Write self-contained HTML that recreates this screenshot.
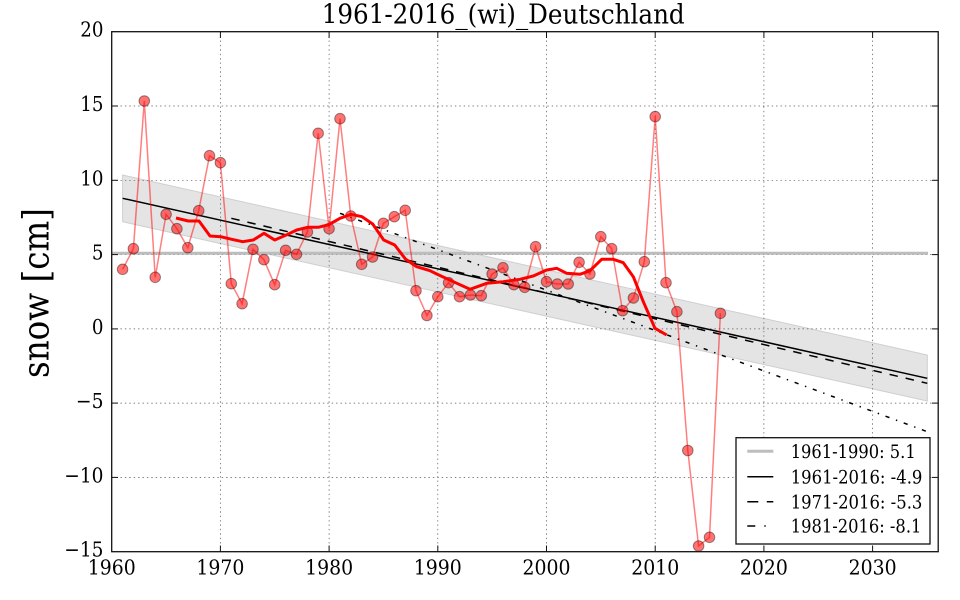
<!DOCTYPE html>
<html><head><meta charset="utf-8"><style>
html,body{margin:0;padding:0;background:#fff;}
svg{display:block;}
text{font-family:"DejaVu Serif","Liberation Serif",serif;fill:#000;}
</style></head><body>
<svg width="960" height="600" viewBox="0 0 960 600" xmlns="http://www.w3.org/2000/svg">
<rect width="960" height="600" fill="#fff"/>
<!-- band -->
<polygon points="122.6,175 927.3,355 927.3,401 122.6,221.7" fill="#e4e4e4" stroke="#cfcfcf" stroke-width="1"/>
<!-- grid -->
<g stroke="#555" stroke-width="0.7" stroke-dasharray="1.4,3" fill="none">
<line x1="220.4" y1="31.7" x2="220.4" y2="551.7"/>
<line x1="329.1" y1="31.7" x2="329.1" y2="551.7"/>
<line x1="437.8" y1="31.7" x2="437.8" y2="551.7"/>
<line x1="546.5" y1="31.7" x2="546.5" y2="551.7"/>
<line x1="655.2" y1="31.7" x2="655.2" y2="551.7"/>
<line x1="763.9" y1="31.7" x2="763.9" y2="551.7"/>
<line x1="872.6" y1="31.7" x2="872.6" y2="551.7"/>
<line x1="111.7" y1="106" x2="938.2" y2="106"/>
<line x1="111.7" y1="180.3" x2="938.2" y2="180.3"/>
<line x1="111.7" y1="254.6" x2="938.2" y2="254.6"/>
<line x1="111.7" y1="328.9" x2="938.2" y2="328.9"/>
<line x1="111.7" y1="403.1" x2="938.2" y2="403.1"/>
<line x1="111.7" y1="477.4" x2="938.2" y2="477.4"/>
</g>
<!-- grey mean line -->
<line x1="111.7" y1="253.2" x2="928" y2="253.2" stroke="#bdbdbd" stroke-width="3"/>
<!-- trend lines -->
<line x1="122.6" y1="198.3" x2="927.3" y2="378.3" stroke="#000" stroke-width="1.5"/>
<line x1="231.3" y1="218.3" x2="927.3" y2="383.3" stroke="#000" stroke-width="1.5" stroke-dasharray="8.5,8"/>
<line x1="340" y1="213.3" x2="927.3" y2="431.7" stroke="#000" stroke-width="1.5" stroke-dasharray="4.2,6.9,1.4,6.9"/>
<!-- data line -->
<polyline fill="none" stroke="#ff0000" stroke-opacity="0.5" stroke-width="1.5" points="122.6,269.3 133.4,248.7 144.3,101 155.2,277.3 166.1,214.3 176.9,228.7 187.8,247.7 198.7,210.7 209.5,155.7 220.4,162.7 231.3,283.7 242.1,303.7 253,249.3 263.9,259.7 274.7,284.7 285.6,250.3 296.5,254.3 307.4,232 318.2,133.3 329.1,228.7 340,118.7 350.8,216 361.7,264.3 372.6,257 383.4,223.3 394.3,216.7 405.2,210.3 416,290.7 426.9,315.5 437.8,296.7 448.6,282.7 459.5,296.7 470.4,295 481.3,295.7 492.1,274 503,267.7 513.9,284.7 524.7,287.3 535.6,246.7 546.5,281.7 557.3,284 568.2,284 579.1,262.3 589.9,274 600.8,236.7 611.7,248.7 622.6,310.7 633.4,298 644.3,261.7 655.2,116.6 666,282.7 676.9,311.7 687.8,450.5 698.6,546 709.5,537.3 720.4,313.3"/>
<g fill="#ff0000" fill-opacity="0.55" stroke="#000" stroke-opacity="0.4" stroke-width="1">
<circle cx="122.6" cy="269.3" r="5.3"/><circle cx="133.4" cy="248.7" r="5.3"/><circle cx="144.3" cy="101" r="5.3"/><circle cx="155.2" cy="277.3" r="5.3"/><circle cx="166.1" cy="214.3" r="5.3"/><circle cx="176.9" cy="228.7" r="5.3"/><circle cx="187.8" cy="247.7" r="5.3"/><circle cx="198.7" cy="210.7" r="5.3"/><circle cx="209.5" cy="155.7" r="5.3"/><circle cx="220.4" cy="162.7" r="5.3"/><circle cx="231.3" cy="283.7" r="5.3"/><circle cx="242.1" cy="303.7" r="5.3"/><circle cx="253" cy="249.3" r="5.3"/><circle cx="263.9" cy="259.7" r="5.3"/><circle cx="274.7" cy="284.7" r="5.3"/><circle cx="285.6" cy="250.3" r="5.3"/><circle cx="296.5" cy="254.3" r="5.3"/><circle cx="307.4" cy="232" r="5.3"/><circle cx="318.2" cy="133.3" r="5.3"/><circle cx="329.1" cy="228.7" r="5.3"/><circle cx="340" cy="118.7" r="5.3"/><circle cx="350.8" cy="216" r="5.3"/><circle cx="361.7" cy="264.3" r="5.3"/><circle cx="372.6" cy="257" r="5.3"/><circle cx="383.4" cy="223.3" r="5.3"/><circle cx="394.3" cy="216.7" r="5.3"/><circle cx="405.2" cy="210.3" r="5.3"/><circle cx="416" cy="290.7" r="5.3"/><circle cx="426.9" cy="315.5" r="5.3"/><circle cx="437.8" cy="296.7" r="5.3"/><circle cx="448.6" cy="282.7" r="5.3"/><circle cx="459.5" cy="296.7" r="5.3"/><circle cx="470.4" cy="295" r="5.3"/><circle cx="481.3" cy="295.7" r="5.3"/><circle cx="492.1" cy="274" r="5.3"/><circle cx="503" cy="267.7" r="5.3"/><circle cx="513.9" cy="284.7" r="5.3"/><circle cx="524.7" cy="287.3" r="5.3"/><circle cx="535.6" cy="246.7" r="5.3"/><circle cx="546.5" cy="281.7" r="5.3"/><circle cx="557.3" cy="284" r="5.3"/><circle cx="568.2" cy="284" r="5.3"/><circle cx="579.1" cy="262.3" r="5.3"/><circle cx="589.9" cy="274" r="5.3"/><circle cx="600.8" cy="236.7" r="5.3"/><circle cx="611.7" cy="248.7" r="5.3"/><circle cx="622.6" cy="310.7" r="5.3"/><circle cx="633.4" cy="298" r="5.3"/><circle cx="644.3" cy="261.7" r="5.3"/><circle cx="655.2" cy="116.6" r="5.3"/><circle cx="666" cy="282.7" r="5.3"/><circle cx="676.9" cy="311.7" r="5.3"/><circle cx="687.8" cy="450.5" r="5.3"/><circle cx="698.6" cy="546" r="5.3"/><circle cx="709.5" cy="537.3" r="5.3"/><circle cx="720.4" cy="313.3" r="5.3"/>
</g>
<!-- smoothed -->
<polyline fill="none" stroke="#ff0000" stroke-width="3" stroke-linejoin="round" stroke-linecap="butt" points="176,218 188.3,221 199,221 210,236 220.7,236.7 231.7,239.3 242.7,241.7 253.3,240 264,233.3 274.7,240 285.7,235.3 296.7,230 307.7,227.3 318.3,227.3 328.7,224.7 340,218.3 351,214.3 362,216.7 372.7,224 383.7,240 394.7,245 405.7,259.3 416.7,266.7 430,270.7 436.7,274 453.3,281.7 470,289.3 486.7,283.3 503.3,281.7 520,279.3 533.3,276 546.7,270 556.7,268.3 566.7,273.3 580,274.3 590,270.7 601.7,259.3 613.3,259.3 623.3,262.7 633.3,276.7 643.3,301.7 655,328.3 666.7,335"/>
<!-- axes frame -->
<rect x="111.7" y="31.7" width="826.5" height="520" fill="none" stroke="#111" stroke-width="1.3"/>
<!-- ticks -->
<g stroke="#111" stroke-width="1">
<line x1="220.4" y1="551.7" x2="220.4" y2="545.5"/><line x1="329.1" y1="551.7" x2="329.1" y2="545.5"/><line x1="437.8" y1="551.7" x2="437.8" y2="545.5"/><line x1="546.5" y1="551.7" x2="546.5" y2="545.5"/><line x1="655.2" y1="551.7" x2="655.2" y2="545.5"/><line x1="763.9" y1="551.7" x2="763.9" y2="545.5"/><line x1="872.6" y1="551.7" x2="872.6" y2="545.5"/>
<line x1="220.4" y1="31.7" x2="220.4" y2="38"/><line x1="329.1" y1="31.7" x2="329.1" y2="38"/><line x1="437.8" y1="31.7" x2="437.8" y2="38"/><line x1="546.5" y1="31.7" x2="546.5" y2="38"/><line x1="655.2" y1="31.7" x2="655.2" y2="38"/><line x1="763.9" y1="31.7" x2="763.9" y2="38"/><line x1="872.6" y1="31.7" x2="872.6" y2="38"/>
<line x1="111.7" y1="106" x2="118" y2="106"/><line x1="111.7" y1="180.3" x2="118" y2="180.3"/><line x1="111.7" y1="254.6" x2="118" y2="254.6"/><line x1="111.7" y1="328.9" x2="118" y2="328.9"/><line x1="111.7" y1="403.1" x2="118" y2="403.1"/><line x1="111.7" y1="477.4" x2="118" y2="477.4"/>
<line x1="938.2" y1="106" x2="932" y2="106"/><line x1="938.2" y1="180.3" x2="932" y2="180.3"/><line x1="938.2" y1="254.6" x2="932" y2="254.6"/><line x1="938.2" y1="328.9" x2="932" y2="328.9"/><line x1="938.2" y1="403.1" x2="932" y2="403.1"/><line x1="938.2" y1="477.4" x2="932" y2="477.4"/>
</g>
<!-- x tick labels -->
<g font-size="20.5" text-anchor="middle">
<text x="111.7" y="574.5" textLength="48" lengthAdjust="spacingAndGlyphs">1960</text>
<text x="220.4" y="574.5" textLength="48" lengthAdjust="spacingAndGlyphs">1970</text>
<text x="329.1" y="574.5" textLength="48" lengthAdjust="spacingAndGlyphs">1980</text>
<text x="437.8" y="574.5" textLength="48" lengthAdjust="spacingAndGlyphs">1990</text>
<text x="546.5" y="574.5" textLength="48" lengthAdjust="spacingAndGlyphs">2000</text>
<text x="655.2" y="574.5" textLength="48" lengthAdjust="spacingAndGlyphs">2010</text>
<text x="763.9" y="574.5" textLength="48" lengthAdjust="spacingAndGlyphs">2020</text>
<text x="872.6" y="574.5" textLength="48" lengthAdjust="spacingAndGlyphs">2030</text>
</g>
<!-- y tick labels -->
<g font-size="20.5" text-anchor="end">
<text x="103.5" y="36.7" textLength="23.2" lengthAdjust="spacingAndGlyphs">20</text>
<text x="103.5" y="111" textLength="23.2" lengthAdjust="spacingAndGlyphs">15</text>
<text x="103.5" y="185.3" textLength="23.2" lengthAdjust="spacingAndGlyphs">10</text>
<text x="103.5" y="259.6" textLength="11.6" lengthAdjust="spacingAndGlyphs">5</text>
<text x="103.5" y="333.9" textLength="11.6" lengthAdjust="spacingAndGlyphs">0</text>
<text x="103.5" y="408.1" textLength="27.6" lengthAdjust="spacingAndGlyphs">−5</text>
<text x="103.5" y="482.4" textLength="39.2" lengthAdjust="spacingAndGlyphs">−10</text>
<text x="103.5" y="556.7" textLength="39.2" lengthAdjust="spacingAndGlyphs">−15</text>
</g>
<!-- title -->
<text x="321.7" y="23.3" font-size="27" textLength="363" lengthAdjust="spacingAndGlyphs">1961-2016_(wi)_Deutschland</text>
<!-- y label -->
<text transform="translate(48.5,293) rotate(-90)" x="0" y="0" font-size="36.6" text-anchor="middle" textLength="170" lengthAdjust="spacingAndGlyphs">snow [cm]</text>
<!-- legend -->
<rect x="736" y="437.7" width="194" height="106.3" fill="#fff" stroke="#111" stroke-width="1.3"/>
<line x1="747.3" y1="451.3" x2="773.3" y2="451.3" stroke="#bdbdbd" stroke-width="3"/>
<line x1="747.3" y1="476.7" x2="773.3" y2="476.7" stroke="#000" stroke-width="1.5"/>
<line x1="747.3" y1="501.7" x2="773.3" y2="501.7" stroke="#000" stroke-width="1.5" stroke-dasharray="11,8.5"/>
<line x1="747.3" y1="526" x2="773.3" y2="526" stroke="#000" stroke-width="1.5" stroke-dasharray="8,9,1.4,9"/>
<g font-size="18.3">
<text x="790.7" y="458" textLength="125" lengthAdjust="spacingAndGlyphs">1961-1990: 5.1</text>
<text x="790.7" y="483.4" textLength="131.7" lengthAdjust="spacingAndGlyphs">1961-2016: -4.9</text>
<text x="790.7" y="508.4" textLength="131.7" lengthAdjust="spacingAndGlyphs">1971-2016: -5.3</text>
<text x="790.7" y="532.7" textLength="130.7" lengthAdjust="spacingAndGlyphs">1981-2016: -8.1</text>
</g>
</svg>
</body></html>
